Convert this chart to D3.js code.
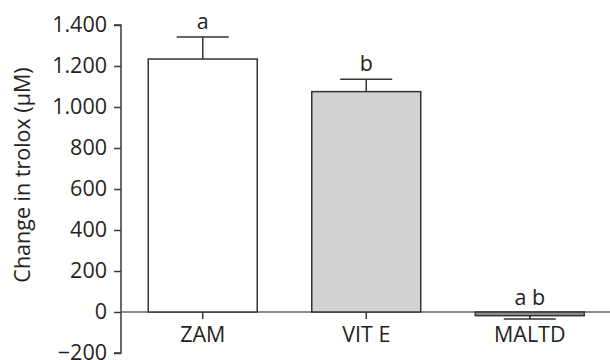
<!DOCTYPE html>
<html>
<head>
<meta charset="utf-8">
<script src="https://cdn.jsdelivr.net/npm/d3@7"></script>
<style>
  body { margin: 0; background: #fff; }
  text { font-family: "Open Sans", sans-serif; fill: #231f20; }
</style>
</head>
<body>
<div id="chart"></div>
<script>
// data
const groups = ["ZAM", "VIT E", "MALTD"];
const means = [1234, 1075, -18];
const errors = [108, 60, -16];
const letters = ["a", "b", "a b"];
const fills = ["#ffffff", "#d1d2d4", "#8f8f8f"];
const yTicks = [-200, 0, 200, 400, 600, 800, 1000, 1200, 1400];

const width = 610, height = 360;
const fs = "21.5px";

const svg = d3.select("#chart")
  .append("svg")
  .attr("width", width)
  .attr("height", height);

const x = d3.scaleBand()
  .domain(groups)
  .range([121, 611.5])
  .paddingInner(1 / 3)
  .paddingOuter(1 / 6);

const y = d3.scaleLinear()
  .domain([-200, 1400])
  .range([353, 25]);

const fmt = d => d3.format(",")(d).replace(/,/g, ".").replace("-", "\u2212");

// Y axis
const yAxis = svg.append("g")
  .attr("transform", "translate(121,0)")
  .call(d3.axisLeft(y).tickValues(yTicks).tickFormat(fmt).tickSize(7).tickPadding(7));
yAxis.select(".domain").attr("stroke", "#3a3a3a").attr("stroke-width", 1.5)
  .attr("d", `M-7,${y(1400)}H0V${y(-200)}H-7`);
yAxis.selectAll(".tick line").attr("stroke", "#3a3a3a").attr("stroke-width", 1.5);
yAxis.selectAll(".tick text").style("font-size", fs).attr("fill", "#231f20");

// X axis at zero
const xAxis = svg.append("g")
  .attr("transform", `translate(0,${y(0)})`)
  .call(d3.axisBottom(x).tickSize(7).tickPadding(8));
xAxis.select(".domain").attr("stroke", "#666").attr("stroke-width", 1.5)
  .attr("d", `M121,0H610`);
xAxis.selectAll(".tick line").attr("stroke", "#3a3a3a").attr("stroke-width", 1.5);
xAxis.selectAll(".tick text").style("font-size", fs).attr("fill", "#231f20");

// Error bars
const bars = groups.map((g, i) => ({ g: g, m: means[i], e: errors[i], l: letters[i], f: fills[i] }));

svg.selectAll(".err")
  .data(bars)
  .enter()
  .append("path")
  .attr("class", "err")
  .attr("fill", "none")
  .attr("stroke", "#333")
  .attr("stroke-width", 1.5)
  .attr("d", d => {
    const cx = x(d.g) + x.bandwidth() / 2;
    return `M${cx},${y(d.m)}V${y(d.m + d.e)}M${cx - 26},${y(d.m + d.e)}H${cx + 26}`;
  });

// Bars
svg.selectAll(".bar")
  .data(bars)
  .enter()
  .append("rect")
  .attr("class", "bar")
  .attr("x", d => x(d.g))
  .attr("y", d => y(Math.max(0, d.m)))
  .attr("width", x.bandwidth())
  .attr("height", d => Math.abs(y(d.m) - y(0)))
  .attr("fill", d => d.f)
  .attr("stroke", "#333")
  .attr("stroke-width", 1.5);

// Significance letters
svg.selectAll(".letter")
  .data(bars)
  .enter()
  .append("text")
  .attr("class", "letter")
  .attr("x", d => x(d.g) + x.bandwidth() / 2)
  .attr("y", d => d.m > 0 ? y(d.m + d.e) - 8 : y(0) - 7)
  .attr("text-anchor", "middle")
  .style("font-size", fs)
  .text(d => d.l);

// Y axis label
svg.append("text")
  .attr("transform", "translate(30,175) rotate(-90)")
  .attr("text-anchor", "middle")
  .style("font-size", fs)
  .text("Change in trolox (\u00b5M)");
</script>
</body>
</html>
